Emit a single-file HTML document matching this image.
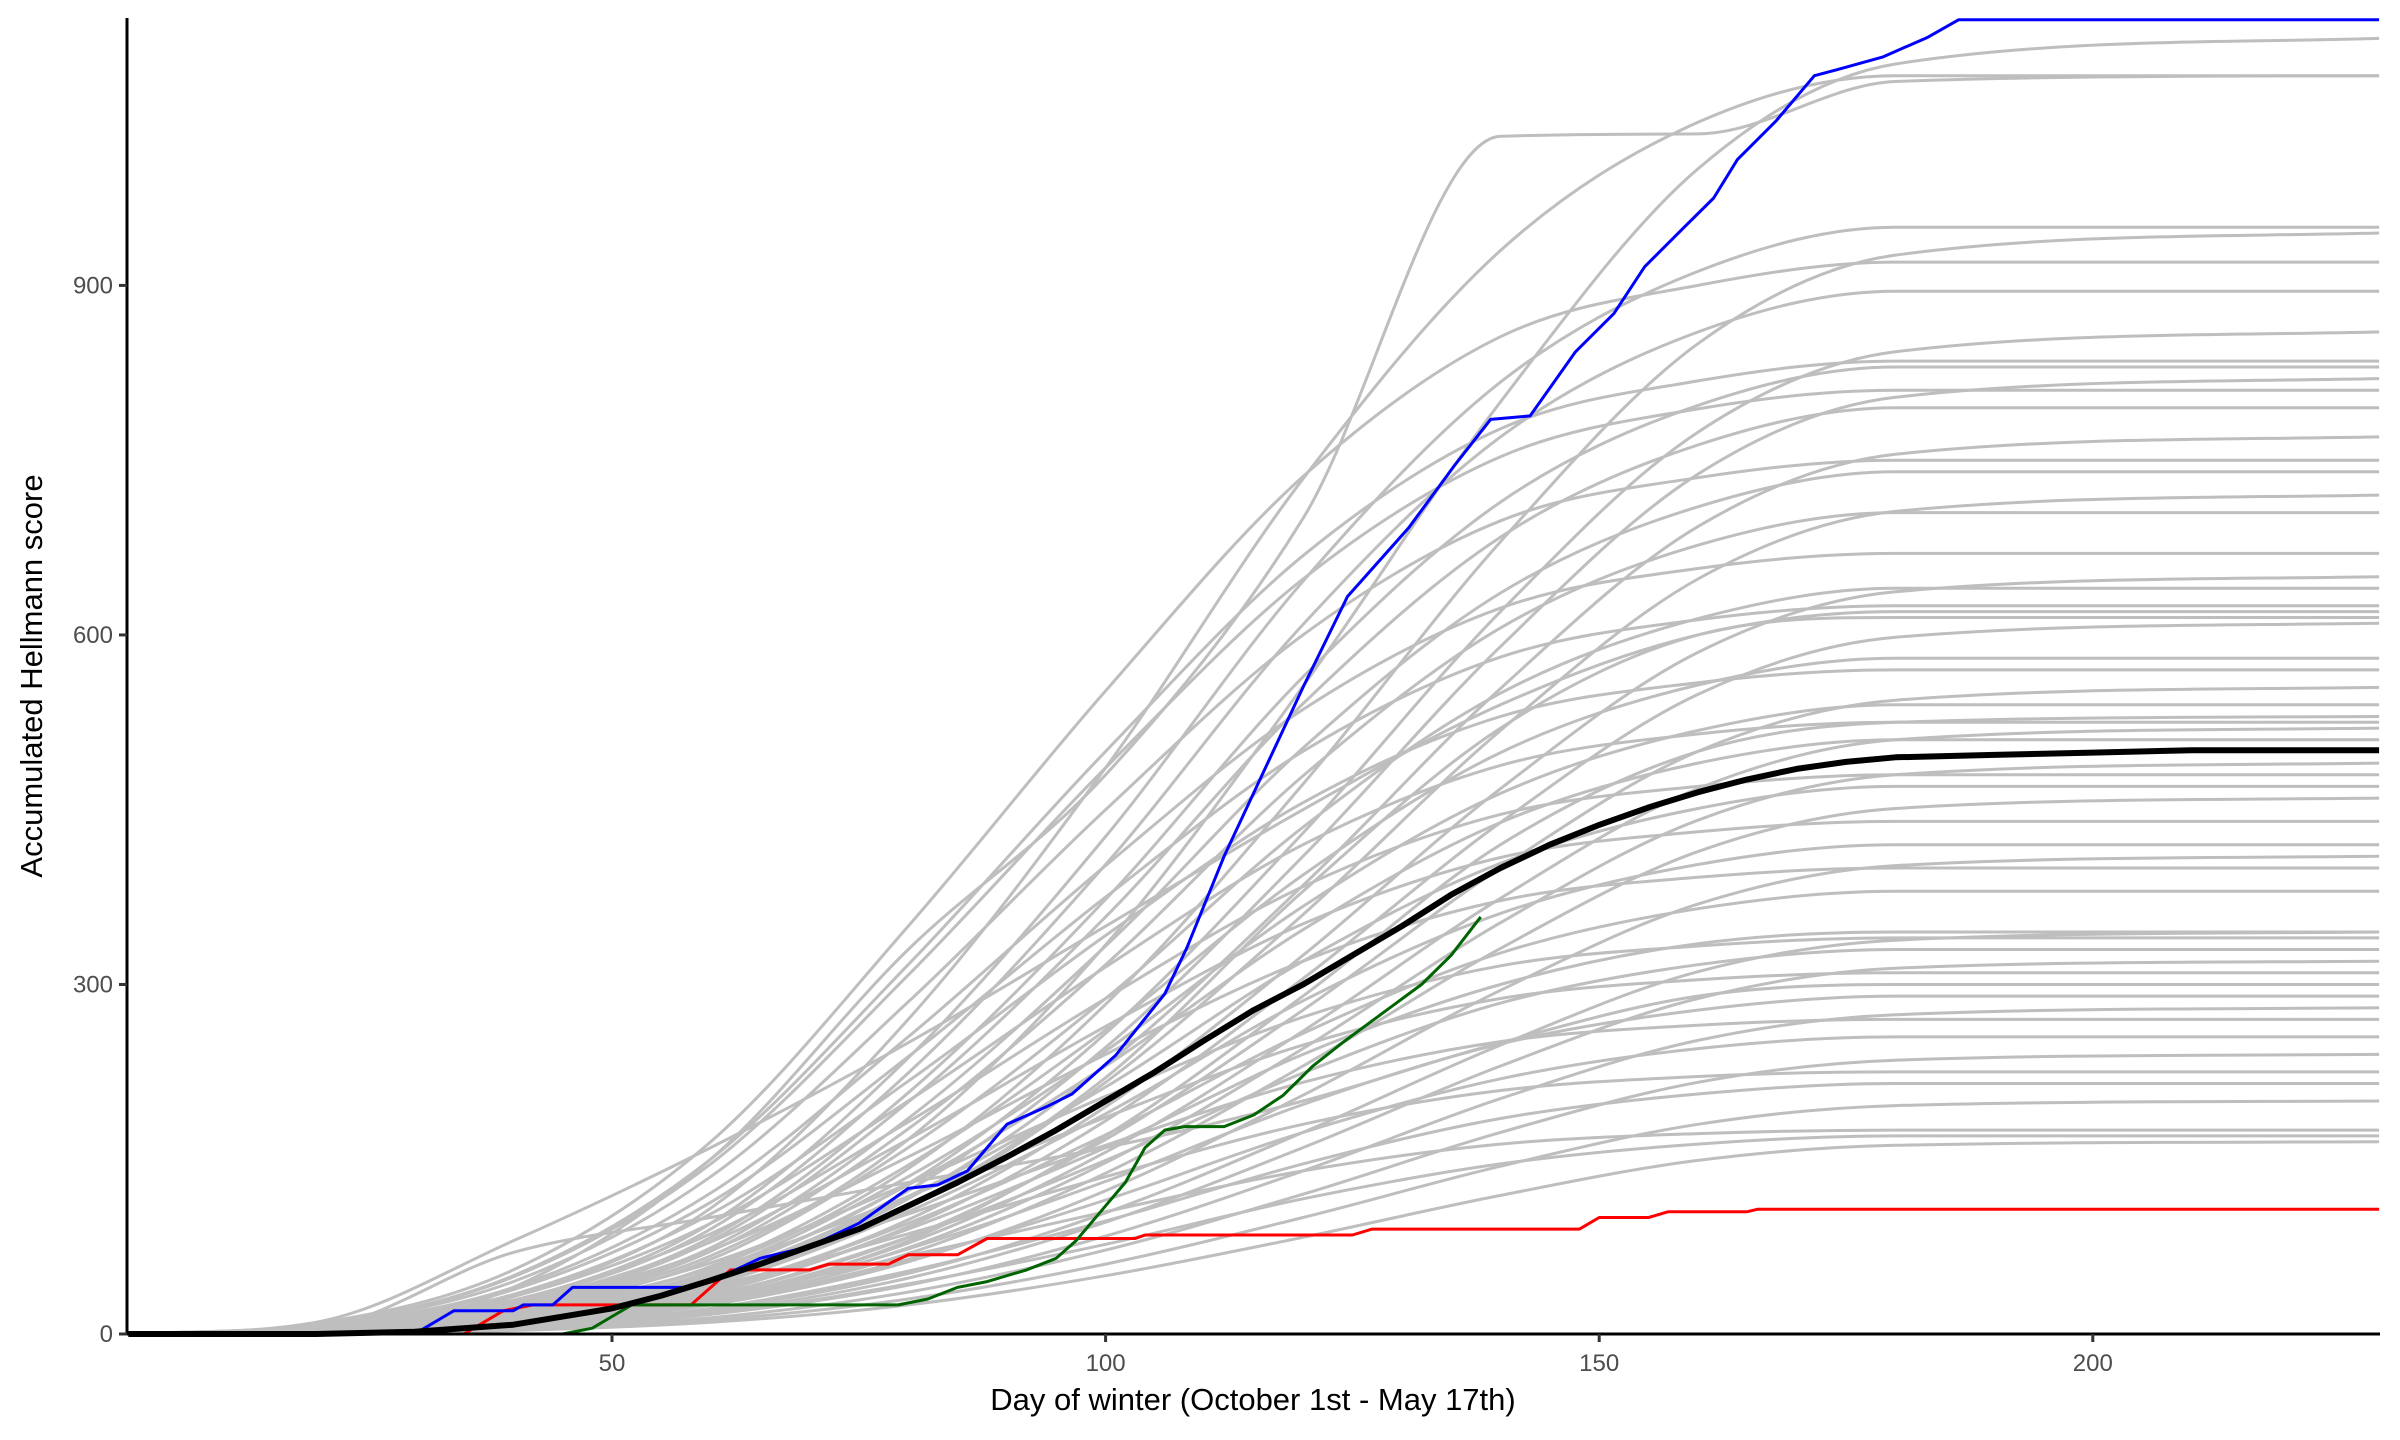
<!DOCTYPE html>
<html><head><meta charset="utf-8"><style>
html,body{margin:0;padding:0;background:#fff;}
svg{display:block;font-family:"Liberation Sans",Arial,sans-serif;}
</style></head><body>
<svg id="chart" width="2400" height="1440" viewBox="0 0 2400 1440" xmlns="http://www.w3.org/2000/svg">
<rect width="2400" height="1440" fill="#fff"/>
<g id="grayg"></g>
<g id="colg"></g>
<g id="axes"></g>
<text x="1253" y="1410" font-size="31" text-anchor="middle" fill="#000">Day of winter (October 1st - May 17th)</text>
<text x="0" y="0" font-size="31" text-anchor="middle" fill="#000" transform="translate(42,676) rotate(-90)">Accumulated Hellmann score</text>
</svg>
<script>
const grayDays = [1,20,40,60,80,100,120,140,160,180,229];
const grayValues = [
[0,0,22,67,167,334,556,800,1000,1090,1112],
[0,0,32,108,270,486,734,930,1040,1080,1080],
[0,0,40,150,330,480,700,1028,1030,1075,1080],
[0,0,28,95,237,427,646,817,912,950,950],
[0,0,19,57,142,283,472,680,850,926,945],
[0,9,55,165,350,552,736,856,900,920,920],
[0,0,27,90,224,403,609,770,860,895,895],
[0,0,17,52,129,258,430,620,774,843,860],
[0,8,50,150,317,500,668,777,818,835,835],
[0,0,25,83,207,373,564,714,797,830,830],
[0,0,16,49,123,246,410,590,738,804,820],
[0,8,49,146,308,486,648,753,794,810,810],
[0,0,24,80,199,358,541,684,763,795,795],
[0,0,15,46,116,231,385,554,693,755,770],
[0,8,45,135,285,450,600,698,735,750,750],
[0,0,22,74,185,333,503,636,710,740,740],
[0,0,14,43,108,216,360,518,648,706,720],
[0,0,21,71,176,317,479,606,677,705,705],
[0,7,40,121,255,402,536,623,657,670,670],
[0,0,13,39,98,195,325,468,585,637,650],
[0,0,19,64,160,288,435,550,614,640,640],
[0,6,38,113,238,375,500,581,613,625,625],
[0,0,12,37,92,183,305,439,549,598,610],
[0,0,17,58,145,261,394,499,557,580,580],
[0,6,34,103,217,342,456,530,559,570,570],
[0,0,11,33,83,167,278,400,500,544,555],
[0,0,16,54,135,243,367,464,518,540,540],
[0,5,32,95,200,315,420,488,515,525,525],
[0,0,10,31,78,156,260,374,468,510,520],
[0,0,15,51,128,230,347,439,490,510,510],
[0,0,10,29,74,147,245,353,441,480,490],
[0,5,29,86,182,288,384,446,470,480,480],
[0,0,14,47,118,212,320,404,451,470,470],
[0,0,9,28,69,138,230,331,414,451,460],
[0,4,26,79,167,264,352,409,431,440,440],
[0,0,13,42,105,189,286,361,403,420,420],
[0,0,8,25,62,123,205,295,369,402,410],
[0,4,24,72,152,240,320,372,392,400,400],
[0,0,11,38,95,171,258,327,365,380,380],
[0,0,7,21,52,104,173,248,311,338,345],
[0,3,20,61,129,204,272,316,333,340,340],
[0,0,10,33,83,149,224,284,317,330,330],
[0,0,6,19,48,96,160,230,288,314,320],
[0,3,19,56,118,186,248,288,304,310,310],
[0,0,9,29,73,131,197,249,278,290,290],
[0,0,6,17,42,84,140,202,252,274,280],
[0,3,16,49,103,162,216,251,265,270,270],
[0,0,8,26,64,115,173,219,245,255,255],
[0,0,5,14,36,72,120,173,216,235,240],
[0,2,14,41,86,135,180,209,221,225,225],
[0,0,6,22,54,97,146,185,206,215,215],
[0,0,4,12,30,60,100,144,180,196,200],
[0,2,11,32,67,105,140,163,172,175,175],
[0,0,5,17,43,77,116,146,163,170,170],
[0,0,3,10,25,50,83,119,149,162,165],
[0,10,80,160,250,350,450,540,600,620,620],
[0,5,70,100,130,160,200,250,290,300,300],
[0,0,12,45,110,220,380,520,600,615,615],
[0,0,6,30,80,170,290,420,500,525,530],
[0,0,8,35,90,160,240,300,335,345,345]
];
const meanDays = [1,20,30,40,50,55,60,65,70,75,80,85,90,95,100,105,110,115,120,125,130,135,140,145,150,155,160,165,170,175,180,190,200,210,229];
const meanValues = [0,0,2,8,22,33,46,60,75,90,110,130,152,175,200,225,252,278,300,325,350,377,400,420,437,452,465,476,485,491,495,497,499,501,501];
const blueDays = [1,30,31,33,34,40,41,44,46,58,60,65,70,75,80,83,86,90,94,96.6,101,106,108.2,112,120,124.5,130.7,135.3,139,143,147.6,151.5,154.6,158.5,161.6,164,167.9,171.8,174,178.7,183.3,186.4,229];
const blueValues = [0,0,5,15,20,20,25,25,40,40,45,65,75,95,125,128,140,180,195,206,239,292,331,410,555,633,692,745,785,788,843,876,916,949,975,1008,1041,1080,1085,1096,1113,1128,1128];
const redDays = [1,35,37,39,42,58,62,70,72,78,80,85,88,103,104,125,127,148,150,155,157,165,166,229];
const redValues = [0,0,10,20,25,25,55,55,60,60,68,68,82,82,85,85,90,90,100,100,105,105,107,107];
const greenDays = [45,48,50,52,79,82,85,88,92,95,97,100,102,104,106,108,112,115,118,121,124,128,132,135,138];
const greenValues = [0,5,15,25,25,30,40,45,55,65,80,110,130,160,175,178,178,188,205,230,250,275,300,325,358];
const xTicks = [50,100,150,200];
const yTicks = [0,300,600,900];

const NS = "http://www.w3.org/2000/svg";
const X0 = 127, X1 = 2380, Y0 = 1334, YT = 18;
function xs(d){ return 612 + (d - 50) * 9.872; }
function ys(v){ return 1334 - v * 1.1651; }
function mk(tag, attrs, parent){
  const e = document.createElementNS(NS, tag);
  for (const k in attrs) e.setAttribute(k, attrs[k]);
  parent.appendChild(e); return e;
}
function pts(days, vals){ return days.map((d,i)=>xs(d).toFixed(1)+","+ys(vals[i]).toFixed(1)).join(" "); }
function smoothPath(days, vals){
  const x = days.map(xs), y = vals.map(ys), n = x.length;
  const d = [], m = new Array(n);
  for (let i = 0; i < n - 1; i++) d.push((y[i+1]-y[i])/(x[i+1]-x[i]));
  m[0] = d[0]; m[n-1] = d[n-2];
  for (let i = 1; i < n - 1; i++) m[i] = (d[i-1]*d[i] <= 0) ? 0 : (d[i-1]+d[i])/2;
  for (let i = 0; i < n - 1; i++) {
    if (d[i] === 0) { m[i] = 0; m[i+1] = 0; continue; }
    const a = m[i]/d[i], b = m[i+1]/d[i], s = a*a + b*b;
    if (s > 9) { const t = 3/Math.sqrt(s); m[i] = t*a*d[i]; m[i+1] = t*b*d[i]; }
  }
  let p = "M" + x[0].toFixed(1) + "," + y[0].toFixed(1);
  for (let i = 0; i < n - 1; i++) {
    const h = (x[i+1]-x[i])/3;
    p += " C" + (x[i]+h).toFixed(1) + "," + (y[i]+m[i]*h).toFixed(1) + " " + (x[i+1]-h).toFixed(1) + "," + (y[i+1]-m[i+1]*h).toFixed(1) + " " + x[i+1].toFixed(1) + "," + y[i+1].toFixed(1);
  }
  return p;
}

const gg = document.getElementById("grayg");
grayValues.forEach((vals) => {
  const p = mk("path", {d: smoothPath(grayDays, vals), fill:"none", stroke:"#bebebe", "stroke-width":"3", "stroke-linejoin":"round"}, gg);
  
  
});
const cg = document.getElementById("colg");
const series = [[redDays, redValues, "#ff0000", 3, "red-year-line"], [greenDays, greenValues, "#006400", 3, "green-year-line"], [blueDays, blueValues, "#0000ff", 3, "blue-year-line"], [meanDays, meanValues, "#000000", 6, "mean-line"]];
series.forEach(s => {
  const p = mk("polyline", {points: pts(s[0], s[1]), fill:"none", stroke:s[2], "stroke-width":s[3], "stroke-linejoin":"round"}, cg);
  
  
});
const ax = document.getElementById("axes");
const xa = mk("line", {x1:X0, y1:Y0, x2:X1, y2:Y0, stroke:"#000", "stroke-width":"3"}, ax);


const ya = mk("line", {x1:X0, y1:YT, x2:X0, y2:Y0+1.5, stroke:"#000", "stroke-width":"3"}, ax);


xTicks.forEach(t => {
  const l = mk("line", {x1:xs(t), y1:Y0, x2:xs(t), y2:Y0+8, stroke:"#333", "stroke-width":"3"}, ax);
  
  
  const tx = mk("text", {x:xs(t), y:Y0+37, "font-size":"24", "text-anchor":"middle", fill:"#4d4d4d"}, ax);
  tx.textContent = t;
  
  
});
yTicks.forEach(t => {
  const l = mk("line", {x1:X0-8, y1:ys(t), x2:X0, y2:ys(t), stroke:"#333", "stroke-width":"3"}, ax);
  
  
  const tx = mk("text", {x:X0-14, y:ys(t)+8, "font-size":"24", "text-anchor":"end", fill:"#4d4d4d"}, ax);
  tx.textContent = t;
  
  
});
</script>
</body></html>
